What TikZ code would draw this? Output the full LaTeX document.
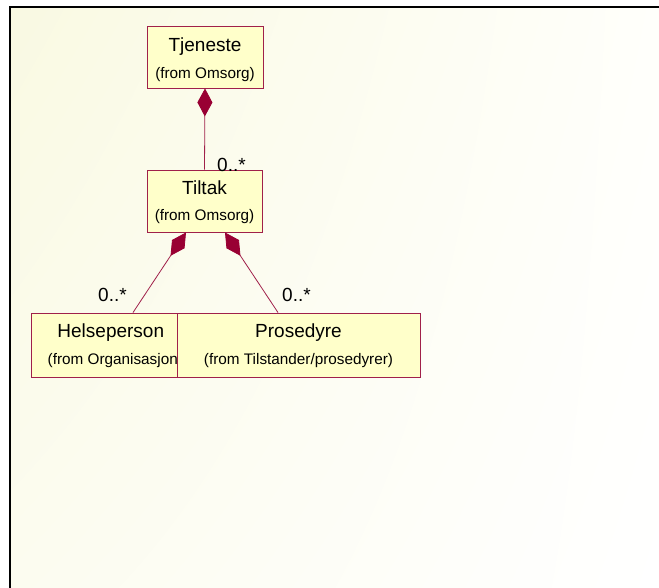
\documentclass[tikz,border=0pt]{standalone}
\usepackage{fontspec}
\setmainfont{Liberation Sans}
\usetikzlibrary{arrows.meta,calc,shadings}

\definecolor{umlline}{HTML}{A0204A}
\definecolor{umlfill}{HTML}{FFFFCA}
\definecolor{umldark}{HTML}{990033}
\definecolor{paperA}{HTML}{F9F9E2}
\definecolor{paperB}{HTML}{FCFCF0}
\definecolor{paperC}{HTML}{FFFFFB}

\tikzset{
  classbox/.style={draw=umlline, fill=umlfill, line width=0.9pt, rectangle, inner sep=0pt},
  classname/.style={anchor=base, inner sep=0pt, font=\fontsize{19}{22}\selectfont},
  classpkg/.style={anchor=base, inner sep=0pt, font=\fontsize{15.3}{18}\selectfont},
  mult/.style={anchor=base west, inner sep=0pt, font=\fontsize{19}{22}\selectfont},
  composition/.style={draw=umlline, line width=0.8pt,
    {Diamond[length=28pt,width=15pt,fill=umldark,color=umldark]}-},
}

\begin{document}
\begin{tikzpicture}[x=1pt,y=-1pt]
  \useasboundingbox (0,0) rectangle (659,588);
  \fill[white] (0,0) rectangle (659,588);
  % paper background and frame
  \shade[upper left=paperA, lower left=paperB, upper right=paperC, lower right=white]
    (10,7) rectangle (659,588);
  \draw[line width=1.3pt, black] (10,588) -- (10,7) -- (659,7);

  % classes
  \node[classbox, minimum width=116, minimum height=62] (tjeneste) at (205,57) {};
  \node[classname] (tjeneste-name) at ($(tjeneste.north)+(0,26)$) {Tjeneste};
  \node[classpkg]  (tjeneste-pkg)  at ($(tjeneste.north)+(0,53)$) {(from Omsorg)};

  \node[classbox, minimum width=115, minimum height=62] (tiltak) at (204.5,201) {};
  \node[classname] (tiltak-name) at ($(tiltak.north)+(0,25)$) {Tiltak};
  \node[classpkg]  (tiltak-pkg)  at ($(tiltak.north)+(0,51)$) {(from Omsorg)};

  \node[classbox, minimum width=159.6, minimum height=64] (helse) at (110.8,345) {};
  \node[classname] (helse-name) at ($(helse.north)+(0,25)$) {Helseperson};
  \node[classpkg]  (helse-pkg)  at ($(helse.north)+(4.5,52)$) {(from Organisasjon)};

  % drawn after Helseperson, so it covers that box's right end
  \node[classbox, minimum width=243, minimum height=64] (prosedyre) at (298.5,345) {};
  \node[classname] (prosedyre-name) at ($(prosedyre.north)+(0,25)$) {Prosedyre};
  \node[classpkg]  (prosedyre-pkg)  at ($(prosedyre.north)+(0,52)$) {(from Tilstander/prosedyrer)};

  % end points of the compositions
  \coordinate (tiltak-l) at ($(tiltak.south)+(-18.5,0)$);
  \coordinate (tiltak-r) at ($(tiltak.south)+(20.5,0)$);
  \coordinate (helse-t)  at ($(helse.north)+(22.2,0)$);
  \coordinate (prosedyre-t) at ($(prosedyre.north)+(-20.5,0)$);

  \draw[composition] (tjeneste.south) -- (tiltak.north);
  \draw[composition] (tiltak-l) -- (helse-t);
  \draw[composition] (tiltak-r) -- (prosedyre-t);

  % multiplicities
  \node[mult] (m1) at ($(tiltak.north)+(12.5,2)$) {0..*};
  \node[mult] (m2) at ($(helse.north)+(-12.8,-11)$) {0..*};
  \node[mult] (m3) at ($(prosedyre.north)+(-16.5,-11)$) {0..*};
\end{tikzpicture}
\end{document}
